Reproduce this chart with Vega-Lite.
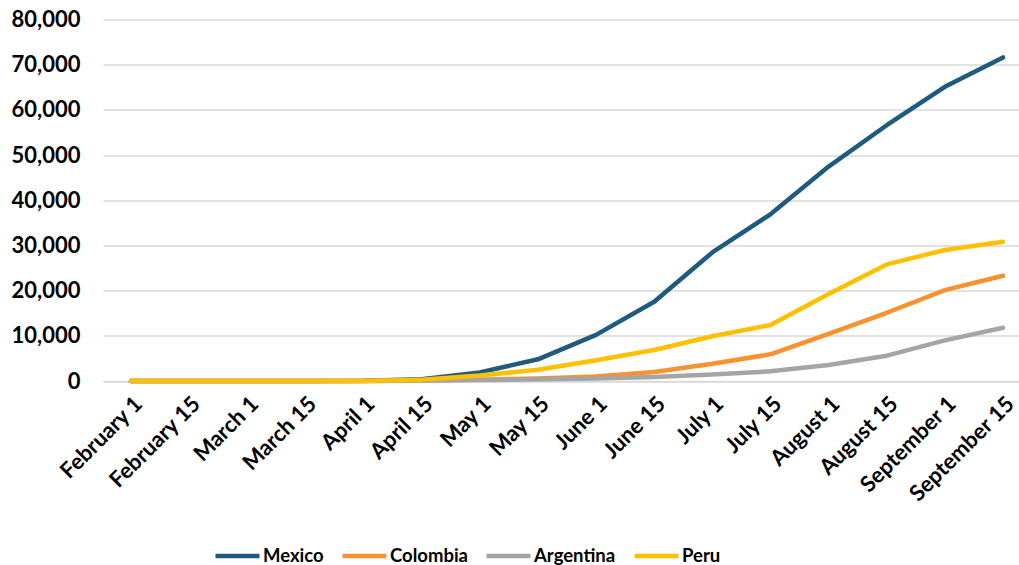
{
  "$schema": "https://vega.github.io/schema/vega-lite/v6.json",
  "autosize": {"type": "none"},
  "width": 916,
  "height": 361.5,
  "padding": {"left": 103, "top": 19.5, "right": 0, "bottom": 184},
  "background": "white",
  "config": {
    "view": {"stroke": null},
    "font": "Lato",
    "axis": {"labelFont": "Lato", "labelFontWeight": "bold", "labelColor": "#000000"}
  },
  "data": {
    "values": [
      {"date": "February 1", "country": "Mexico", "value": 0},
      {"date": "February 15", "country": "Mexico", "value": 0},
      {"date": "March 1", "country": "Mexico", "value": 0},
      {"date": "March 15", "country": "Mexico", "value": 0},
      {"date": "April 1", "country": "Mexico", "value": 30},
      {"date": "April 15", "country": "Mexico", "value": 400},
      {"date": "May 1", "country": "Mexico", "value": 1900},
      {"date": "May 15", "country": "Mexico", "value": 4800},
      {"date": "June 1", "country": "Mexico", "value": 10200},
      {"date": "June 15", "country": "Mexico", "value": 17550},
      {"date": "July 1", "country": "Mexico", "value": 28450},
      {"date": "July 15", "country": "Mexico", "value": 36900},
      {"date": "August 1", "country": "Mexico", "value": 47450},
      {"date": "August 15", "country": "Mexico", "value": 56600},
      {"date": "September 1", "country": "Mexico", "value": 65100},
      {"date": "September 15", "country": "Mexico", "value": 71600},

      {"date": "February 1", "country": "Colombia", "value": 0},
      {"date": "February 15", "country": "Colombia", "value": 0},
      {"date": "March 1", "country": "Colombia", "value": 0},
      {"date": "March 15", "country": "Colombia", "value": 0},
      {"date": "April 1", "country": "Colombia", "value": 20},
      {"date": "April 15", "country": "Colombia", "value": 130},
      {"date": "May 1", "country": "Colombia", "value": 290},
      {"date": "May 15", "country": "Colombia", "value": 550},
      {"date": "June 1", "country": "Colombia", "value": 1000},
      {"date": "June 15", "country": "Colombia", "value": 2000},
      {"date": "July 1", "country": "Colombia", "value": 3800},
      {"date": "July 15", "country": "Colombia", "value": 5900},
      {"date": "August 1", "country": "Colombia", "value": 10450},
      {"date": "August 15", "country": "Colombia", "value": 15100},
      {"date": "September 1", "country": "Colombia", "value": 20100},
      {"date": "September 15", "country": "Colombia", "value": 23300},

      {"date": "February 1", "country": "Argentina", "value": 0},
      {"date": "February 15", "country": "Argentina", "value": 0},
      {"date": "March 1", "country": "Argentina", "value": 0},
      {"date": "March 15", "country": "Argentina", "value": 0},
      {"date": "April 1", "country": "Argentina", "value": 25},
      {"date": "April 15", "country": "Argentina", "value": 100},
      {"date": "May 1", "country": "Argentina", "value": 230},
      {"date": "May 15", "country": "Argentina", "value": 360},
      {"date": "June 1", "country": "Argentina", "value": 530},
      {"date": "June 15", "country": "Argentina", "value": 900},
      {"date": "July 1", "country": "Argentina", "value": 1450},
      {"date": "July 15", "country": "Argentina", "value": 2150},
      {"date": "August 1", "country": "Argentina", "value": 3550},
      {"date": "August 15", "country": "Argentina", "value": 5600},
      {"date": "September 1", "country": "Argentina", "value": 9000},
      {"date": "September 15", "country": "Argentina", "value": 11800},

      {"date": "February 1", "country": "Peru", "value": 0},
      {"date": "February 15", "country": "Peru", "value": 0},
      {"date": "March 1", "country": "Peru", "value": 0},
      {"date": "March 15", "country": "Peru", "value": 0},
      {"date": "April 1", "country": "Peru", "value": 25},
      {"date": "April 15", "country": "Peru", "value": 280},
      {"date": "May 1", "country": "Peru", "value": 1200},
      {"date": "May 15", "country": "Peru", "value": 2500},
      {"date": "June 1", "country": "Peru", "value": 4600},
      {"date": "June 15", "country": "Peru", "value": 6860},
      {"date": "July 1", "country": "Peru", "value": 9900},
      {"date": "July 15", "country": "Peru", "value": 12400},
      {"date": "August 1", "country": "Peru", "value": 19250},
      {"date": "August 15", "country": "Peru", "value": 25800},
      {"date": "September 1", "country": "Peru", "value": 29000},
      {"date": "September 15", "country": "Peru", "value": 30800}
    ]
  },
  "mark": {"type": "line", "strokeWidth": 4.5, "strokeCap": "round", "strokeJoin": "round"},
  "encoding": {
    "x": {
      "field": "date",
      "type": "nominal",
      "sort": ["February 1", "February 15", "March 1", "March 15", "April 1", "April 15", "May 1", "May 15", "June 1", "June 15", "July 1", "July 15", "August 1", "August 15", "September 1", "September 15"],
      "scale": {"type": "point", "padding": 0.378, "align": 0.636},
      "axis": {
        "title": null,
        "labelAngle": -45,
        "labelFontSize": 22,
        "ticks": false,
        "labelPadding": 12,
        "domain": true,
        "domainColor": "#d9d9d9",
        "domainWidth": 1.5,
        "grid": false
      }
    },
    "y": {
      "field": "value",
      "type": "quantitative",
      "scale": {"domain": [0, 80000], "nice": false},
      "axis": {
        "title": null,
        "values": [0, 10000, 20000, 30000, 40000, 50000, 60000, 70000, 80000],
        "format": ",d",
        "labelFontSize": 22,
        "domain": false,
        "ticks": false,
        "labelPadding": 23,
        "gridColor": "#d9d9d9",
        "gridWidth": 1.5
      }
    },
    "color": {
      "field": "country",
      "type": "nominal",
      "sort": ["Mexico", "Colombia", "Argentina", "Peru"],
      "scale": {"domain": ["Mexico", "Colombia", "Argentina", "Peru"], "range": ["#1f5b7c", "#f7922f", "#a5a5a5", "#ffc000"]},
      "legend": {
        "title": null,
        "orient": "none",
        "direction": "horizontal",
        "legendX": 110,
        "legendY": 512,
        "symbolType": "stroke",
        "symbolSize": 1936,
        "symbolStrokeWidth": 4.5,
        "labelFont": "Lato",
        "labelFontWeight": "bold",
        "labelFontSize": 18.5,
        "labelColor": "#000000",
        "labelOffset": 1,
        "columnPadding": 9,
        "padding": 0
      }
    }
  }
}
